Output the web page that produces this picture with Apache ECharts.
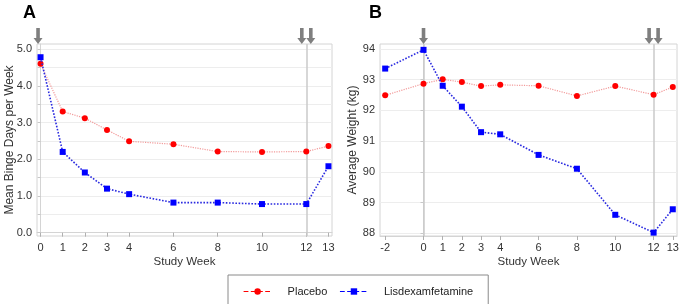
<!DOCTYPE html>
<html>
<head>
<meta charset="utf-8">
<script src="https://cdn.jsdelivr.net/npm/echarts@6/dist/echarts.min.js"></script>
<style>
  html, body { margin: 0; padding: 0; background: #fff; }
  #chart { width: 685px; height: 304px; }
</style>
</head>
<body>
<div id="chart"></div>
<script>
// Panel A: mean binge days per week
const weeksA = [0, 1, 2, 3, 4, 6, 8, 10, 12, 13];
const placeboA = [4.6, 3.3, 3.12, 2.8, 2.49, 2.41, 2.21, 2.2, 2.21, 2.36];
const lisdexA = [4.78, 2.2, 1.64, 1.2, 1.05, 0.82, 0.82, 0.78, 0.78, 1.81];

// Panel B: average weight (kg)
const weeksB = [-2, 0, 1, 2, 3, 4, 6, 8, 10, 12, 13];
const placeboB = [92.49, 92.87, 93.01, 92.92, 92.79, 92.83, 92.8, 92.47, 92.79, 92.51, 92.76];
const lisdexB = [93.36, 93.97, 92.8, 92.12, 91.29, 91.22, 90.55, 90.1, 88.6, 88.02, 88.78];

// tick labels
const xTicksA = [0, 1, 2, 3, 4, 6, 8, 10, 12, 13];
const xTicksB = [-2, 0, 1, 2, 3, 4, 6, 8, 10, 12, 13];
const yTicksA = [0, 1, 2, 3, 4, 5];
const yGridA = [0, 0.5, 1, 1.5, 2, 2.5, 3, 3.5, 4, 4.5, 5];
const yTicksB = [88, 89, 90, 91, 92, 93, 94];

// reference lines and dosing arrows
const refLinesA = [12];
const refLinesB = [0, 12];
const singleArrowWeek = 0;
const doubleArrowWeek = 12;

const rangeA = { xmin: -0.16, xmax: 13.16, ymin: -0.09, ymax: 5.14 };
const rangeB = { xmin: -2.27, xmax: 13.22, ymin: 87.91, ymax: 94.16 };

const FONT = 'Liberation Sans, Arial, sans-serif';
const RED = '#ff0000';
const BLUE = '#0000ff';
const arrowPath = 'path://M3,0 L7,0 L7,10 L10,10 L5,16 L0,10 L3,10 Z';

const zip = (xs, ys) => xs.map((x, i) => [x, ys[i]]);

function arrows(ymax, shiftA) {
  return {
    silent: true,
    symbol: arrowPath,
    symbolSize: [9, 16],
    itemStyle: { color: '#7f7f7f' },
    label: { show: false },
    data: [
      { coord: [singleArrowWeek, ymax], symbolOffset: [shiftA, -8] },
      { coord: [doubleArrowWeek, ymax], symbolOffset: [-4.5, -8] },
      { coord: [doubleArrowWeek, ymax], symbolOffset: [4.5, -8] },
    ],
  };
}

function refLines(weeks) {
  return {
    silent: true,
    symbol: 'none',
    z: 1,
    label: { show: false },
    lineStyle: { color: '#cacaca', width: 1.5, type: 'solid' },
    data: weeks.map(w => ({ xAxis: w })),
  };
}

function xAxis(gridIndex, range, ticks) {
  return {
    type: 'value',
    gridIndex,
    min: range.xmin,
    max: range.xmax,
    name: 'Study Week',
    nameLocation: 'middle',
    nameGap: 20,
    nameMoveOverlap: false,
    nameTextStyle: { fontFamily: FONT, fontSize: 11.5, color: '#333' },
    axisLine: { show: true, lineStyle: { color: '#d4d4d4' } },
    axisTick: { show: true, length: 4, customValues: ticks, lineStyle: { color: '#b0b0b0' } },
    axisLabel: { customValues: ticks, margin: 6, fontFamily: FONT, fontSize: 11, color: '#333' },
    splitLine: { show: false },
  };
}

function yAxis(gridIndex, range, ticks, grid, name, gap, fmt) {
  return {
    type: 'value',
    gridIndex,
    min: range.ymin,
    max: range.ymax,
    name,
    nameLocation: 'middle',
    nameGap: gap,
    nameMoveOverlap: false,
    nameTextStyle: { fontFamily: FONT, fontSize: 12, color: '#333' },
    axisLine: { show: true, lineStyle: { color: '#d4d4d4' } },
    axisTick: { show: true, length: 3, customValues: grid, lineStyle: { color: '#c8c8c8' } },
    axisLabel: { customValues: ticks, margin: 5, fontFamily: FONT, fontSize: 11, color: '#333', formatter: fmt },
    splitLine: { show: true, lineStyle: { color: '#ededed', width: 1 } },
  };
}

function lineSeries(name, gridIndex, xs, ys, isPlacebo, extra) {
  return Object.assign({
    name,
    type: 'line',
    xAxisIndex: gridIndex,
    yAxisIndex: gridIndex,
    data: zip(xs, ys),
    clip: false,
    symbol: isPlacebo ? 'circle' : 'rect',
    symbolSize: 6,
    itemStyle: { color: isPlacebo ? RED : BLUE },
    lineStyle: isPlacebo
      ? { color: '#f29a9a', width: 1.2, type: 'dotted' }
      : { color: '#2a2ae0', width: 1.6, type: 'dotted' },
    z: isPlacebo ? 3 : 4,
  }, extra || {});
}

const chart = echarts.init(document.getElementById('chart'), null, { renderer: 'canvas' });

chart.setOption({
  animation: false,
  backgroundColor: '#fff',
  graphic: [
    { type: 'text', left: 23, top: 4, style: { text: 'A', font: 'bold 18px ' + FONT, fill: '#000' } },
    { type: 'text', left: 369, top: 4, style: { text: 'B', font: 'bold 18px ' + FONT, fill: '#000' } },
  ],
  grid: [
    { left: 37, top: 44, right: 353, bottom: 68, show: true, borderColor: '#d4d4d4', borderWidth: 1 },
    { left: 380, top: 44, right: 8, bottom: 68, show: true, borderColor: '#d4d4d4', borderWidth: 1 },
  ],
  legend: {
    left: 228,
    top: 275,
    orient: 'horizontal',
    padding: [11, 15, 11, 15],
    itemWidth: 28,
    itemHeight: 8,
    itemGap: 12,
    borderColor: '#8a8a8a',
    borderWidth: 1,
    textStyle: { fontFamily: FONT, fontSize: 11, color: '#222', padding: [0, 0, 0, 11] },
    lineStyle: { type: 'dashed', width: 1.2 },
    data: [
      { name: 'Placebo', itemStyle: { color: RED }, lineStyle: { color: RED, type: 'dashed', width: 1.2 } },
      { name: 'Lisdexamfetamine', itemStyle: { color: BLUE }, lineStyle: { color: BLUE, type: 'dashed', width: 1.2 } },
    ],
  },
  xAxis: [xAxis(0, rangeA, xTicksA), xAxis(1, rangeB, xTicksB)],
  yAxis: [
    yAxis(0, rangeA, yTicksA, yGridA, 'Mean Binge Days per Week', 21, v => v.toFixed(1)),
    yAxis(1, rangeB, yTicksB, yTicksB, 'Average Weight (kg)', 21, v => String(v)),
  ],
  series: [
    lineSeries('Placebo', 0, weeksA, placeboA, true, {
      markLine: refLines(refLinesA),
      markPoint: arrows(rangeA.ymax, -2.5),
    }),
    lineSeries('Lisdexamfetamine', 0, weeksA, lisdexA, false),
    lineSeries('Placebo', 1, weeksB, placeboB, true, {
      markLine: refLines(refLinesB),
      markPoint: arrows(rangeB.ymax, 0),
    }),
    lineSeries('Lisdexamfetamine', 1, weeksB, lisdexB, false),
  ],
});
</script>
</body>
</html>
